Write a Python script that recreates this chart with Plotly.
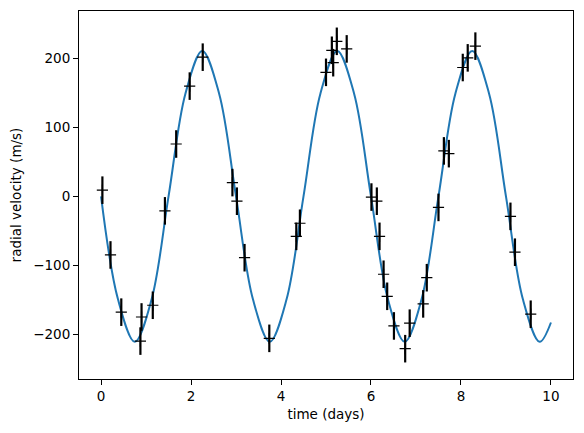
import plotly.graph_objects as go

time_days = [0.03, 0.21, 0.45, 0.875, 0.90, 1.15, 1.42, 1.67, 1.97, 2.26,
             2.92, 3.02, 3.19, 3.74, 4.34, 4.42,
             5.00, 5.13, 5.16, 5.24, 5.46,
             6.01, 6.13, 6.19, 6.28, 6.36, 6.51, 6.76, 6.86, 7.16, 7.24,
             7.50, 7.62, 7.73, 8.04, 8.15, 8.32, 9.10, 9.20, 9.55]
velocity = [9, -85, -168, -210, -175, -158, -21, 76, 160, 202,
            20, -7, -89, -206, -58, -39,
            180, 212, 194, 225, 214,
            -1, -7, -58, -113, -145, -188, -221, -184, -156, -118,
            -16, 66, 62, 187, 201, 218, -29, -81, -171]
velocity_err = [20] * len(time_days)

# Model curve, read at eighth-period steps from the picture
model_t = [0, 0.375, 0.75, 1.125, 1.5, 1.875, 2.25, 2.625, 3.0, 3.375, 3.75,
           4.125, 4.5, 4.875, 5.25, 5.625, 6.0, 6.375, 6.75, 7.125, 7.5,
           7.875, 8.25, 8.625, 9.0, 9.375, 9.75, 10.0]
model_v = [0, -149, -211, -149, 0, 149, 211, 149, 0, -149, -211,
           -149, 0, 149, 211, 149, 0, -149, -211, -149, 0,
           149, 211, 149, 0, -149, -211, -183]

x_ticks = [0, 2, 4, 6, 8, 10]
y_ticks = [-200, -100, 0, 100, 200]

fig = go.Figure()
fig.add_trace(go.Scatter(
    x=model_t, y=model_v, mode="lines",
    line=dict(color="#1f77b4", width=2, shape="spline", smoothing=1.0),
    hoverinfo="skip", showlegend=False))
fig.add_trace(go.Scatter(
    x=time_days, y=velocity, mode="markers",
    marker=dict(symbol="cross-thin", size=8, color="black",
                line=dict(color="black", width=1.2)),
    error_y=dict(type="data", array=velocity_err, visible=True,
                 color="black", thickness=2.2, width=0),
    showlegend=False))

font = dict(family="DejaVu Sans", size=13.5, color="black")
axis_common = dict(showgrid=False, zeroline=False, showline=True,
                   linecolor="black", linewidth=1, mirror=True,
                   ticks="outside", ticklen=5, tickwidth=1, tickcolor="black",
                   tickfont=font)
fig.update_layout(
    width=584, height=433,
    margin=dict(l=79, r=11, t=11, b=54),
    paper_bgcolor="white", plot_bgcolor="white",
    font=font,
    xaxis=dict(range=[-0.49, 10.49], tickvals=x_ticks,
               title=dict(text="time (days)", font=font, standoff=6),
               **axis_common),
    yaxis=dict(range=[-265, 269], tickvals=y_ticks,
               title=dict(text="radial velocity (m/s)", font=font, standoff=8),
               **axis_common),
)
fig.write_html("out.html")
